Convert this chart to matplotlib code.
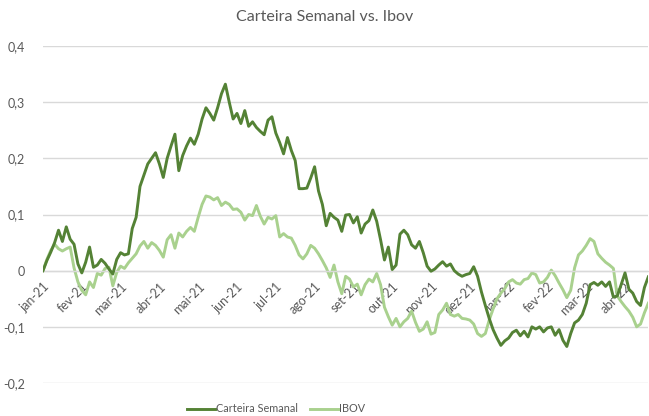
import numpy as np
import matplotlib
matplotlib.use("Agg")
import matplotlib.pyplot as plt
from matplotlib.ticker import FuncFormatter, FixedLocator

plt.rcParams['font.family'] = ['Lato', 'DejaVu Sans']

month_labels = ["jan-21", "fev-21", "mar-21", "abr-21", "mai-21", "jun-21", "jul-21", "ago-21",
                "set-21", "out-21", "nov-21", "dez-21", "jan-22", "fev-22", "mar-22", "abr-22"]
samples_per_month = 10

carteira = [
    0.0, 0.018, 0.033, 0.05, 0.072, 0.052, 0.078, 0.056, 0.047, 0.012,
    -0.004, 0.015, 0.042, 0.006, 0.01, 0.02, 0.013, 0.003, -0.006, 0.02,
    0.032, 0.028, 0.03, 0.075, 0.095, 0.15, 0.17, 0.19, 0.2, 0.21,
    0.19, 0.166, 0.2, 0.222, 0.243, 0.178, 0.205, 0.222, 0.236, 0.225,
    0.243, 0.27, 0.29, 0.28, 0.268, 0.29, 0.315, 0.332, 0.30, 0.27,
    0.28, 0.262, 0.285, 0.257, 0.265, 0.255, 0.248, 0.242, 0.268, 0.274,
    0.245, 0.228, 0.208, 0.237, 0.214, 0.196, 0.146, 0.146, 0.147, 0.165,
    0.185, 0.142, 0.118, 0.08, 0.102, 0.095, 0.09, 0.07, 0.099, 0.1,
    0.085, 0.096, 0.067, 0.083, 0.089, 0.108, 0.088, 0.055, 0.019, 0.042,
    0.002, 0.01, 0.065, 0.072, 0.064, 0.046, 0.04, 0.052, 0.032, 0.008,
    -0.001, 0.003, 0.01, 0.016, 0.008, 0.012, 0.0, -0.006, -0.01, -0.007,
    -0.005, 0.007, -0.01, -0.038, -0.062, -0.085, -0.105, -0.12, -0.133, -0.125,
    -0.12, -0.11, -0.106, -0.116, -0.108, -0.118, -0.1, -0.104, -0.1, -0.109,
    -0.102, -0.1, -0.115, -0.105, -0.124, -0.135, -0.112, -0.093, -0.088, -0.078,
    -0.058, -0.025, -0.021, -0.026, -0.02, -0.028, -0.02, -0.047, -0.045, -0.025,
    -0.004, -0.033, -0.04, -0.055, -0.062, -0.03, -0.011,
]

ibov = [
    0.0, 0.02, 0.036, 0.047, 0.039, 0.035, 0.039, 0.042, 0.005, -0.02,
    -0.035, -0.043, -0.02, -0.03, -0.005, -0.008, 0.004, 0.006, -0.027, -0.003,
    0.008, 0.004, 0.014, 0.022, 0.03, 0.044, 0.052, 0.04, 0.05, 0.045,
    0.036, 0.024, 0.055, 0.064, 0.04, 0.067, 0.06, 0.07, 0.077, 0.07,
    0.095, 0.118, 0.133, 0.131, 0.126, 0.13, 0.116, 0.122, 0.118, 0.109,
    0.11, 0.104, 0.09, 0.1, 0.098, 0.116, 0.097, 0.083, 0.095, 0.092,
    0.098, 0.06, 0.066, 0.06, 0.058, 0.045, 0.028, 0.021, 0.03, 0.045,
    0.04, 0.03, 0.018, 0.005, -0.012, 0.01, -0.02, -0.041, -0.01, -0.015,
    -0.029, -0.024, -0.043, -0.025, -0.015, -0.02, -0.005, -0.025, -0.065, -0.082,
    -0.097, -0.085, -0.1, -0.091, -0.085, -0.072, -0.092, -0.108, -0.104, -0.091,
    -0.113, -0.11, -0.078, -0.07, -0.058, -0.078, -0.081, -0.078, -0.085, -0.086,
    -0.088, -0.095, -0.112, -0.117, -0.112, -0.088, -0.068, -0.05, -0.04, -0.032,
    -0.02, -0.016, -0.022, -0.024, -0.016, -0.014, -0.004, -0.007, -0.022, -0.02,
    -0.012, 0.001, -0.009, -0.022, -0.034, -0.048, -0.035, 0.005, 0.028, 0.035,
    0.045, 0.057, 0.052, 0.03, 0.022, 0.015, 0.01, 0.004, -0.045, -0.055,
    -0.064, -0.072, -0.083, -0.1, -0.095, -0.075, -0.058,
]

y_ticks = [-0.2, -0.1, 0.0, 0.1, 0.2, 0.3, 0.4]

dark = "#548235"
light = "#A9D18E"
grid_c = "#D9D9D9"
text_c = "#595959"

fig = plt.figure(figsize=(6.49, 4.16), dpi=100)
ax = fig.add_axes([43/649, 33/416, (648.3-43)/649, (383-46)/416])

x = np.arange(len(carteira))
ax.plot(x, carteira, color=dark, lw=2.1, label="Carteira Semanal", solid_joinstyle='round', zorder=3)
ax.plot(np.arange(len(ibov)), ibov, color=light, lw=2.1, label="IBOV", solid_joinstyle='round', zorder=2)

ax.set_xlim(0, len(carteira) - 1)
ax.set_ylim(-0.2, 0.4)
ax.set_yticks(y_ticks)

def fmt(v, pos):
    if abs(v) < 1e-9:
        return "0"
    return ("%.1f" % v).replace(".", ",")

ax.yaxis.set_major_formatter(FuncFormatter(fmt))
ax.yaxis.grid(True, color=grid_c, lw=1.0, zorder=0)
ax.set_axisbelow(True)

for s in ["left", "right", "top"]:
    ax.spines[s].set_visible(False)
ax.spines["bottom"].set_position(("data", 0))
ax.spines["bottom"].set_color(grid_c)
ax.spines["bottom"].set_linewidth(1.0)

tick_pos = [i * samples_per_month for i in range(len(month_labels))]
ax.xaxis.set_major_locator(FixedLocator(tick_pos))
ax.set_xticklabels(month_labels, rotation=45, ha="right", va="top", rotation_mode="anchor")
ax.tick_params(axis="x", length=0, pad=7, labelsize=9, labelcolor=text_c)
ax.tick_params(axis="y", length=0, pad=13, labelsize=9, labelcolor=text_c)

fig.text(0.5, 1 - 17/416, "Carteira Semanal vs. Ibov", ha="center", va="center",
         fontsize=11.5, color=text_c)

fig.legend(loc="center", bbox_to_anchor=(276/649, 1 - 409/416), ncol=2, frameon=False,
           fontsize=7.8, handlelength=2.6, handletextpad=0.05, columnspacing=1.2,
           labelcolor=text_c)

fig.savefig("out.png", dpi=100)
